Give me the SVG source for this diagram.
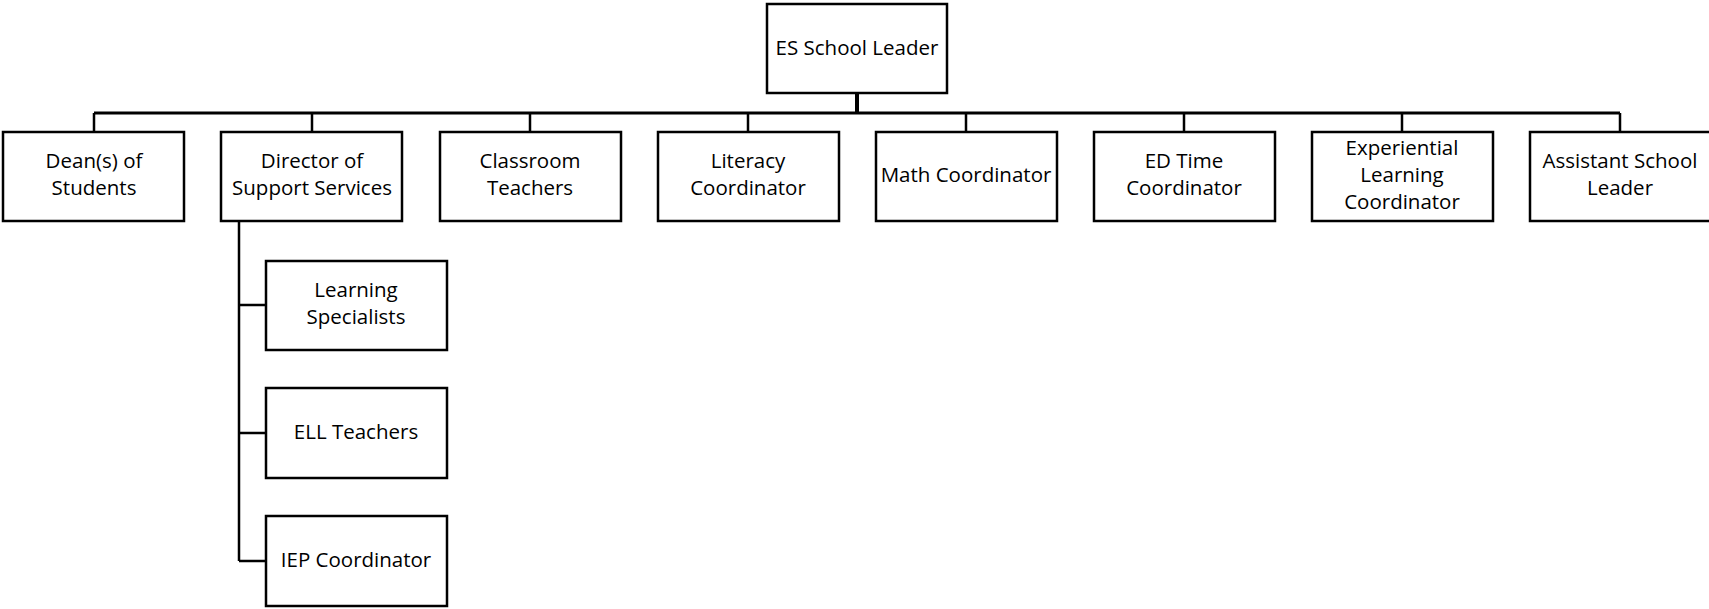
<svg xmlns="http://www.w3.org/2000/svg" width="1709" height="609" viewBox="0 0 1709 609">
<style>
.box{fill:#fff;stroke:#000;stroke-width:2.5}
.ln{fill:none;stroke:#000;stroke-width:2.5}
text{font-family:"Open Sans","Liberation Sans",sans-serif;font-size:20.5px;fill:#000;text-anchor:middle}
</style>
<rect width="1709" height="609" fill="#fff"/>
<g id="connectors">
<line class="ln" x1="857" y1="93" x2="857" y2="113" style="stroke-width:4"/>
<line class="ln" x1="94" y1="113" x2="1620" y2="113" style="stroke-width:3"/>
<path class="ln" d="M94 113V132M312 113V132M530 113V132M748 113V132M966 113V132M1184 113V132M1402 113V132M1620 113V132"/>
<path class="ln" d="M239 221V561M239 305H266M239 433H266M239 561H266"/>
</g>
<g id="es-school-leader"><rect class="box" x="767" y="4" width="180" height="89"/><text x="857" y="55">ES School Leader</text></g>
<g id="deans"><rect class="box" x="3" y="132" width="181" height="89"/><text x="94" y="168">Dean(s) of</text><text x="94" y="195">Students</text></g>
<g id="director"><rect class="box" x="221" y="132" width="181" height="89"/><text x="312" y="168">Director of</text><text x="312" y="195">Support Services</text></g>
<g id="classroom"><rect class="box" x="440" y="132" width="181" height="89"/><text x="530" y="168">Classroom</text><text x="530" y="195">Teachers</text></g>
<g id="literacy"><rect class="box" x="658" y="132" width="181" height="89"/><text x="748" y="168">Literacy</text><text x="748" y="195">Coordinator</text></g>
<g id="math"><rect class="box" x="876" y="132" width="181" height="89"/><text x="966" y="182">Math Coordinator</text></g>
<g id="ed-time"><rect class="box" x="1094" y="132" width="181" height="89"/><text x="1184" y="168">ED Time</text><text x="1184" y="195">Coordinator</text></g>
<g id="experiential"><rect class="box" x="1312" y="132" width="181" height="89"/><text x="1402" y="155">Experiential</text><text x="1402" y="182">Learning</text><text x="1402" y="209">Coordinator</text></g>
<g id="assistant"><rect class="box" x="1530" y="132" width="181" height="89"/><text x="1620" y="168">Assistant School</text><text x="1620" y="195">Leader</text></g>
<g id="learning-specialists"><rect class="box" x="266" y="261" width="181" height="89"/><text x="356" y="297">Learning</text><text x="356" y="324">Specialists</text></g>
<g id="ell-teachers"><rect class="box" x="266" y="388" width="181" height="90"/><text x="356" y="439">ELL Teachers</text></g>
<g id="iep"><rect class="box" x="266" y="516" width="181" height="90"/><text x="356" y="567">IEP Coordinator</text></g>
</svg>
